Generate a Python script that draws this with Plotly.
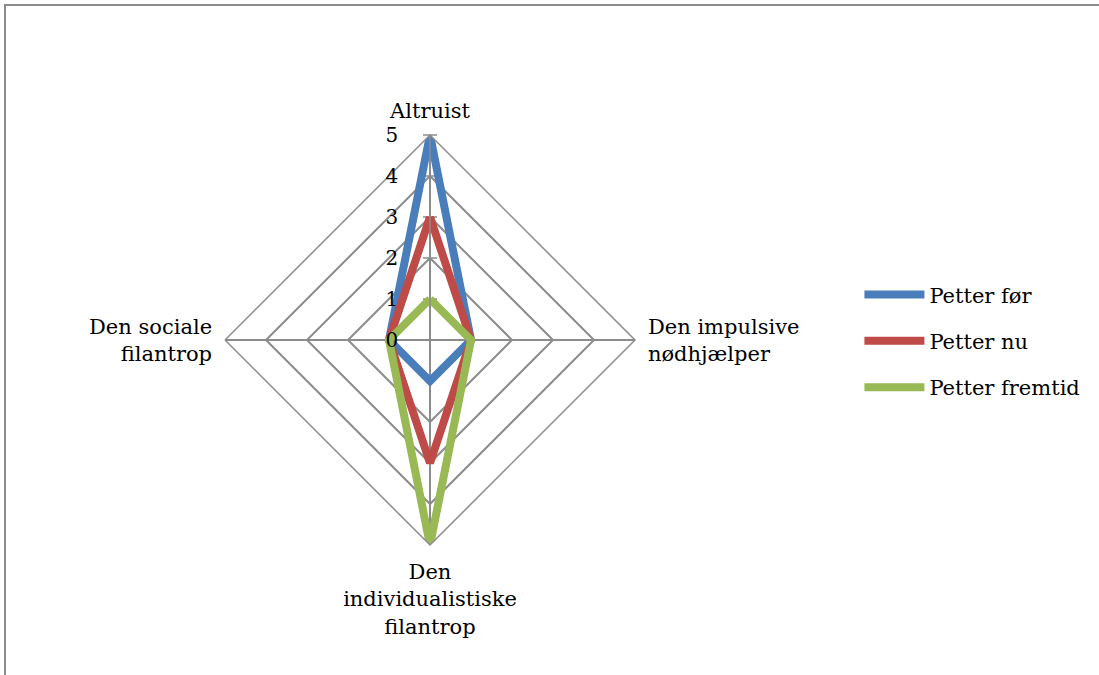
import plotly.graph_objects as go

categories = ["Altruist", "Den impulsive<br>nødhjælper", "Den<br>individualistiske<br>filantrop", "Den sociale<br>filantrop"]
series_names = ["Petter før", "Petter nu", "Petter fremtid"]
petter_foer = [5, 1, 1, 1]
petter_nu = [3, 1, 3, 1]
petter_fremtid = [1, 1, 5, 1]
colors = ["#4a7ebb", "#be4b48", "#98b954"]
radial_ticks = [0, 1, 2, 3, 4, 5]

FONT = "DejaVu Serif, serif"
GRID = "#8c8c8c"
W, H = 1099, 675
cx, cy, R = 430, 340, 205

fig = go.Figure()
# small cross tick marks on the value axis (Excel style)
fig.add_trace(go.Scatterpolar(
    r=radial_ticks, theta=[categories[0]] * len(radial_ticks),
    mode="markers", showlegend=False, hoverinfo="skip",
    marker=dict(symbol="line-ew", size=10, line=dict(color=GRID, width=1.5)),
))
for name, vals, col in zip(series_names, [petter_foer, petter_nu, petter_fremtid], colors):
    fig.add_trace(go.Scatterpolar(
        r=vals + vals[:1],
        theta=categories + categories[:1],
        mode="lines",
        name=name,
        legendgroup=name,
        line=dict(color=col, width=8),
    ))

fig.update_layout(
    width=W, height=H,
    margin=dict(l=0, r=0, t=0, b=0),
    paper_bgcolor="white",
    font=dict(family=FONT, size=21, color="black"),
    polar=dict(
        domain=dict(x=[(cx - R) / W, (cx + R) / W], y=[(H - cy - R) / H, (H - cy + R) / H]),
        bgcolor="white",
        gridshape="linear",
        radialaxis=dict(
            range=[0, 5], tickvals=radial_ticks, angle=90, tickangle=90,
            side="counterclockwise",
            showline=True, linecolor=GRID, linewidth=1.5,
            gridcolor=GRID, gridwidth=1.5,
            ticks="outside", ticklen=24, tickcolor="rgba(0,0,0,0)",
            tickfont=dict(family=FONT, size=20),
        ),
        angularaxis=dict(
            rotation=90, direction="clockwise",
            showline=True, linecolor=GRID, linewidth=1.5,
            gridcolor=GRID, gridwidth=1.5,
            ticks="outside", ticklen=8, tickcolor="rgba(0,0,0,0)",
            tickfont=dict(family=FONT, size=21),
        ),
    ),
    legend=dict(x=0.782, y=0.495, yanchor="middle", xanchor="left",
                font=dict(family=FONT, size=21), itemwidth=60, tracegroupgap=16),
    shapes=[dict(type="rect", xref="paper", yref="paper",
                 x0=5 / W, x1=1.02, y0=-0.02, y1=1 - 5 / H,
                 line=dict(color=GRID, width=2))],
)

fig.write_html("out.html", config={"displayModeBar": False},
               post_script="document.body.style.margin='0';document.body.style.overflow='hidden';")
